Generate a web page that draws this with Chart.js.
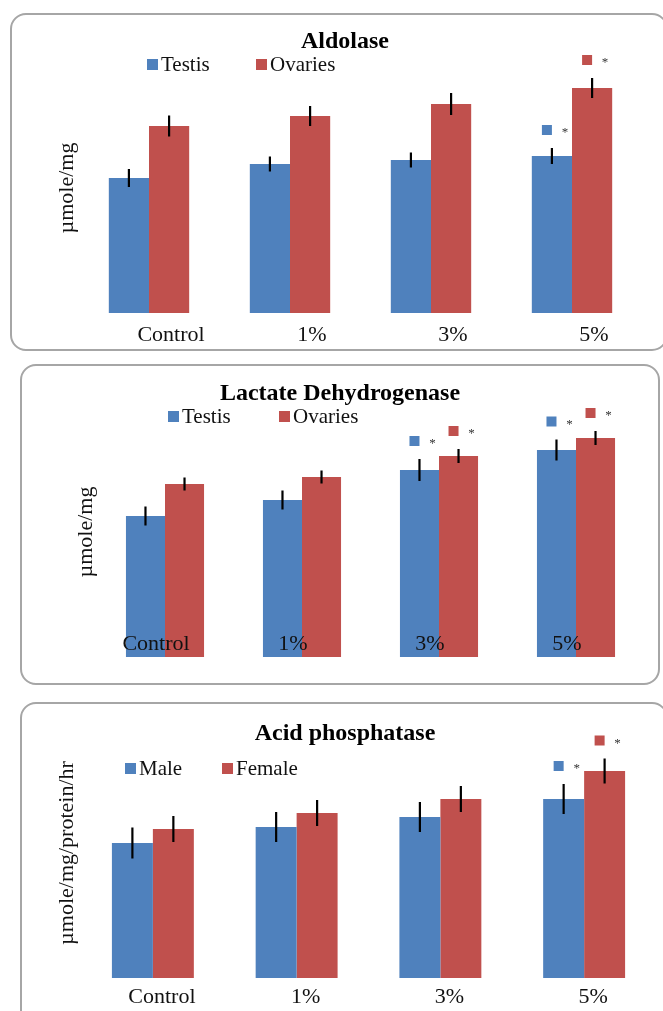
<!DOCTYPE html>
<html lang="en">
<head>
<meta charset="UTF-8">
<title>Aldolase, LDH and Acid phosphatase</title>
<script src="https://cdn.jsdelivr.net/npm/chart.js"></script>
<style>
  body { margin:0; width:663px; height:1011px; overflow:hidden; background:#fff; position:relative;
         font-family:"Liberation Serif","Times New Roman",serif; }
  .panel { position:absolute; border:2px solid #a6a6a6; border-radius:16px; box-sizing:border-box; }
  canvas { position:absolute; left:0; z-index:1; }
  .title { position:absolute; width:400px; text-align:center; font-weight:bold; font-size:24px;
           line-height:28px; color:#000; z-index:2; }
  .legend { position:absolute; display:flex; font-size:21px; line-height:24px; color:#111; z-index:2; }
  .legend .item { display:flex; align-items:center; }
  .legend i { display:inline-block; width:11px; height:11px; margin-right:3px; }
</style>
</head>
<body>
  <div class="panel" style="left:10px; top:13px; width:658px; height:338px;"></div>
  <div class="panel" style="left:20px; top:364px; width:640px; height:321px;"></div>
  <div class="panel" style="left:20px; top:702px; width:648px; height:330px;"></div>

  <canvas id="aldChart" width="663" height="351" style="top:0px;"></canvas>
  <canvas id="ldhChart" width="663" height="321" style="top:364px;"></canvas>
  <canvas id="acpChart" width="663" height="309" style="top:702px;"></canvas>

  <div class="title" style="left:145px; top:26px;">Aldolase</div>
  <div class="title" style="left:140px; top:378px;">Lactate Dehydrogenase</div>
  <div class="title" style="left:145px; top:718px;">Acid phosphatase</div>

  <div class="legend" id="aldLegend" style="left:147px; top:52px; --w:109px;"></div>
  <div class="legend" id="ldhLegend" style="left:168px; top:404px; --w:111px;"></div>
  <div class="legend" id="acpLegend" style="left:125px; top:756px; --w:97px;"></div>

<script>
// groups on the x axis
const groups = ['Control', '1%', '3%', '5%'];

// Aldolase (µmole/mg, no axis in the picture)
const aldTestis     = [2.70, 2.98, 3.06, 3.14];
const aldTestisErr  = [0.18, 0.15, 0.15, 0.16];
const aldOvaries    = [3.74, 3.94, 4.18, 4.50];
const aldOvariesErr = [0.21, 0.20, 0.22, 0.20];
const aldTestisSig  = [false, false, false, true];
const aldOvariesSig = [false, false, false, true];

// Lactate Dehydrogenase
const ldhTestis     = [2.82, 3.14, 3.74, 4.14];
const ldhTestisErr  = [0.19, 0.19, 0.22, 0.21];
const ldhOvaries    = [3.46, 3.60, 4.02, 4.38];
const ldhOvariesErr = [0.13, 0.13, 0.14, 0.14];
const ldhTestisSig  = [false, false, true, true];
const ldhOvariesSig = [false, false, true, true];

// Acid phosphatase (µmole/mg/protein/hr)
const acpMale      = [2.70, 3.02, 3.22, 3.58];
const acpMaleErr   = [0.31, 0.30, 0.30, 0.30];
const acpFemale    = [2.98, 3.30, 3.58, 4.14];
const acpFemaleErr = [0.26, 0.26, 0.26, 0.25];
const acpMaleSig   = [false, false, false, true];
const acpFemaleSig = [false, false, false, true];

const BLUE = '#4F81BD';
const RED = '#C0504D';
const FONT = '"Liberation Serif", "Times New Roman", serif';

// error bars + significance marks (small square and *) drawn over each bar
const errorBars = {
    id: 'errorBars',
    afterDatasetsDraw(chart) {
        const ctx = chart.ctx;
        const y = chart.scales.y;
        chart.data.datasets.forEach((ds, di) => {
            chart.getDatasetMeta(di).data.forEach((bar, i) => {
                const top = y.getPixelForValue(ds.data[i] + ds.err[i]);
                const bot = y.getPixelForValue(ds.data[i] - ds.err[i]);
                ctx.save();
                ctx.strokeStyle = '#000';
                ctx.lineWidth = 2.2;
                ctx.beginPath();
                ctx.moveTo(bar.x, top);
                ctx.lineTo(bar.x, bot);
                ctx.stroke();
                if (ds.sig[i]) {
                    const my = top - 18;
                    ctx.fillStyle = ds.backgroundColor;
                    ctx.fillRect(bar.x - 10, my - 5, 10, 10);
                    ctx.fillStyle = '#333';
                    ctx.font = '13px ' + FONT;
                    ctx.textAlign = 'center';
                    ctx.textBaseline = 'middle';
                    ctx.fillText('*', bar.x + 13, my + 3);
                }
                ctx.restore();
            });
        });
        // LDH panel: category names sit inside the bottom of the bars
        const inner = chart.options.plugins.innerLabels;
        if (inner && inner.display) {
            const x = chart.scales.x;
            ctx.save();
            ctx.fillStyle = '#111';
            ctx.font = '22px ' + FONT;
            ctx.textAlign = 'center';
            ctx.textBaseline = 'middle';
            chart.data.labels.forEach((lab, i) => {
                ctx.fillText(lab, x.getPixelForValue(i) + inner.offset, chart.chartArea.bottom - inner.lift);
            });
            ctx.restore();
        }
    }
};

function makeChart(id, sets, yTitle, g) {
    return new Chart(document.getElementById(id), {
        type: 'bar',
        data: {
            labels: groups,
            datasets: sets.map(s => ({
                label: s.label, data: s.data, err: s.err, sig: s.sig,
                backgroundColor: s.color, borderWidth: 0
            }))
        },
        options: {
            responsive: false,
            animation: false,
            layout: { padding: { left: g.left, right: g.right, top: g.top, bottom: 0 } },
            datasets: { bar: { categoryPercentage: 0.57, barPercentage: 1 } },
            plugins: {
                legend: { display: false }, title: { display: false }, tooltip: { enabled: false },
                innerLabels: { display: !!g.inner, offset: g.labelOffset, lift: 13 }
            },
            scales: {
                x: {
                    grid: { display: false, drawTicks: false },
                    border: { display: false },
                    ticks: { display: !g.inner, color: '#111', font: { family: FONT, size: 22 }, padding: g.tickPad, labelOffset: g.labelOffset },
                    afterFit: s => { s.height = g.xh; }
                },
                y: {
                    min: 0, max: 5,
                    grid: { display: false, drawTicks: false },
                    border: { display: false },
                    ticks: { display: false },
                    title: { display: true, text: yTitle, color: '#111', font: { family: FONT, size: 22 }, padding: { top: 4, bottom: 4 } },
                    afterFit: s => { s.width = g.yw; }
                }
            }
        },
        plugins: [errorBars]
    });
}

function buildLegend(id, chart) {
    const box = document.getElementById(id);
    chart.data.datasets.forEach((ds, i) => {
        const item = document.createElement('span');
        item.className = 'item';
        if (i === 0) item.style.width = 'var(--w)';
        item.innerHTML = `<i style="background:${ds.backgroundColor}"></i>${ds.label}`;
        box.appendChild(item);
    });
}

const ald = makeChart('aldChart', [
    { label: 'Testis', data: aldTestis, err: aldTestisErr, sig: aldTestisSig, color: BLUE },
    { label: 'Ovaries', data: aldOvaries, err: aldOvariesErr, sig: aldOvariesSig, color: RED }
], 'µmole/mg', { left: 50, yw: 28.5, right: 20.5, top: 63, xh: 38, tickPad: 9, labelOffset: 22 });

const ldh = makeChart('ldhChart', [
    { label: 'Testis', data: ldhTestis, err: ldhTestisErr, sig: ldhTestisSig, color: BLUE },
    { label: 'Ovaries', data: ldhOvaries, err: ldhOvariesErr, sig: ldhOvariesSig, color: RED }
], 'µmole/mg', { left: 69, yw: 27.5, right: 18.5, top: 43, xh: 28, tickPad: 0, labelOffset: -9, inner: true });

const acp = makeChart('acpChart', [
    { label: 'Male', data: acpMale, err: acpMaleErr, sig: acpMaleSig, color: BLUE },
    { label: 'Female', data: acpFemale, err: acpFemaleErr, sig: acpFemaleSig, color: RED }
], 'µmole/mg/protein/hr', { left: 50, yw: 31, right: 7, top: 26, xh: 33, tickPad: 6, labelOffset: 9 });

buildLegend('aldLegend', ald);
buildLegend('ldhLegend', ldh);
buildLegend('acpLegend', acp);
</script>
</body>
</html>
